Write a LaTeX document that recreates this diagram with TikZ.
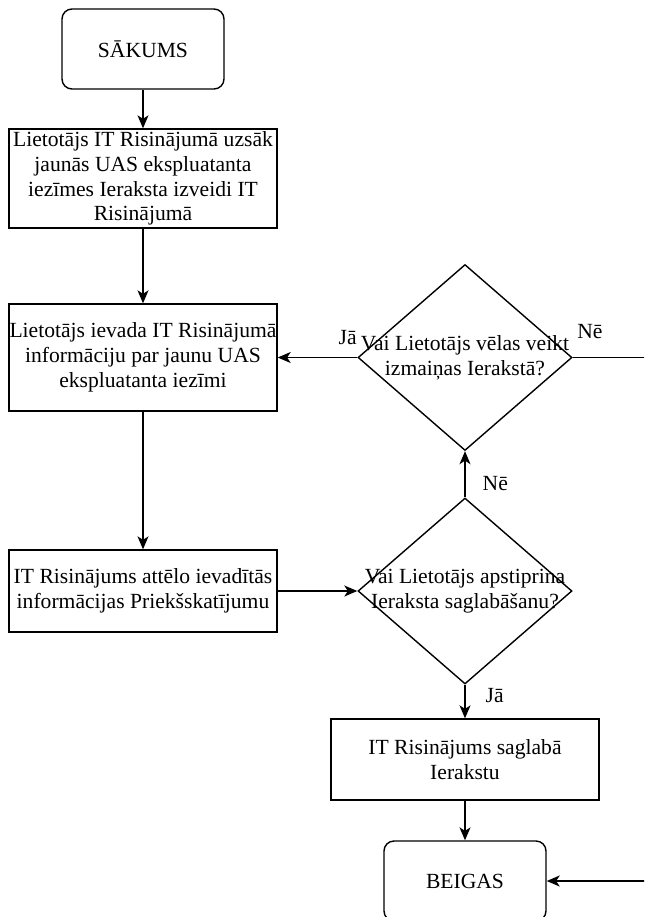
\documentclass[tikz,border=0pt]{standalone}
\usepackage{fontspec}
\setmainfont{Liberation Serif}
\usetikzlibrary{shapes.geometric,arrows.meta,positioning}
\tikzset{
	terminal/.style={draw, rounded corners=5pt, minimum width=81pt, minimum height=40pt, align=center},
	process/.style={draw, minimum width=134pt, inner sep=0pt, align=center},
	decision/.style={draw, diamond, minimum width=107pt, minimum height=93pt, inner sep=0pt},
	lbl/.style={inner sep=0pt},
	flow/.style={-{Stealth[length=6.5pt,width=5.5pt,inset=1.8pt]}}
}
\begin{document}
\begin{tikzpicture}[x=0.5pt,y=-0.5pt,line width=0.7pt,font=\fontsize{10.8}{12.4}\selectfont]
		\useasboundingbox (0,0) rectangle (644,917);
		\clip (0,0) rectangle (644,917);
		\node[terminal] (S) at (143,49) {SĀKUMS};
		\node[process, minimum height=49.5pt] (P1) at (143,178.5) {Lietotājs IT Risinājumā uzsāk\\jaunās UAS ekspluatanta\\iezīmes Ieraksta izveidi IT\\Risinājumā};
		\node[process, minimum height=53.5pt] (P2) at (143,357.5) {Lietotājs ievada IT Risinājumā\\informāciju par jaunu UAS\\ekspluatanta iezīmi};
		\node[process, minimum height=41pt] (P3) at (143,591) {IT Risinājums attēlo ievadītās\\informācijas Priekšskatījumu};
		\node[decision, label={[align=center]center:Vai Lietotājs vēlas veikt\\izmaiņas Ierakstā?}] (D1) at (465,357.5) {};
		\node[decision, label={[align=center]center:Vai Lietotājs apstiprina\\Ieraksta saglabāšanu?}] (D2) at (465,591) {};
		\node[process, minimum height=40.5pt] (P4) at (465,759.5) {IT Risinājums saglabā\\Ierakstu};
		\node[terminal] (E) at (465,881) {BEIGAS};
		\coordinate (R) at (660,357.5);

		\node[lbl, above left=6.2pt and 0pt of D1.west] (J1) {Jā};
		\node[lbl, above right=9pt and 2pt of D1.east] (N1) {Nē};
		\node[lbl, above right=3pt and 8.5pt of D2.north] (N2) {Nē};
		\node[lbl, below right=1.5pt and 10pt of D2.south] (J2) {Jā};

		\draw[flow] (S) -- (P1);
		\draw[flow] (P1) -- (P2);
		\draw[flow] (P2) -- (P3);
		\draw[flow] (P3) -- (D2);
		\draw[flow] (D2) -- (D1);
		\draw[flow] (D1) -- (P2);
		\draw[flow] (D2) -- (P4);
		\draw[flow] (P4) -- (E);
		\draw[flow] (D1.east) -- (R) |- (E.east);
\end{tikzpicture}
\end{document}
